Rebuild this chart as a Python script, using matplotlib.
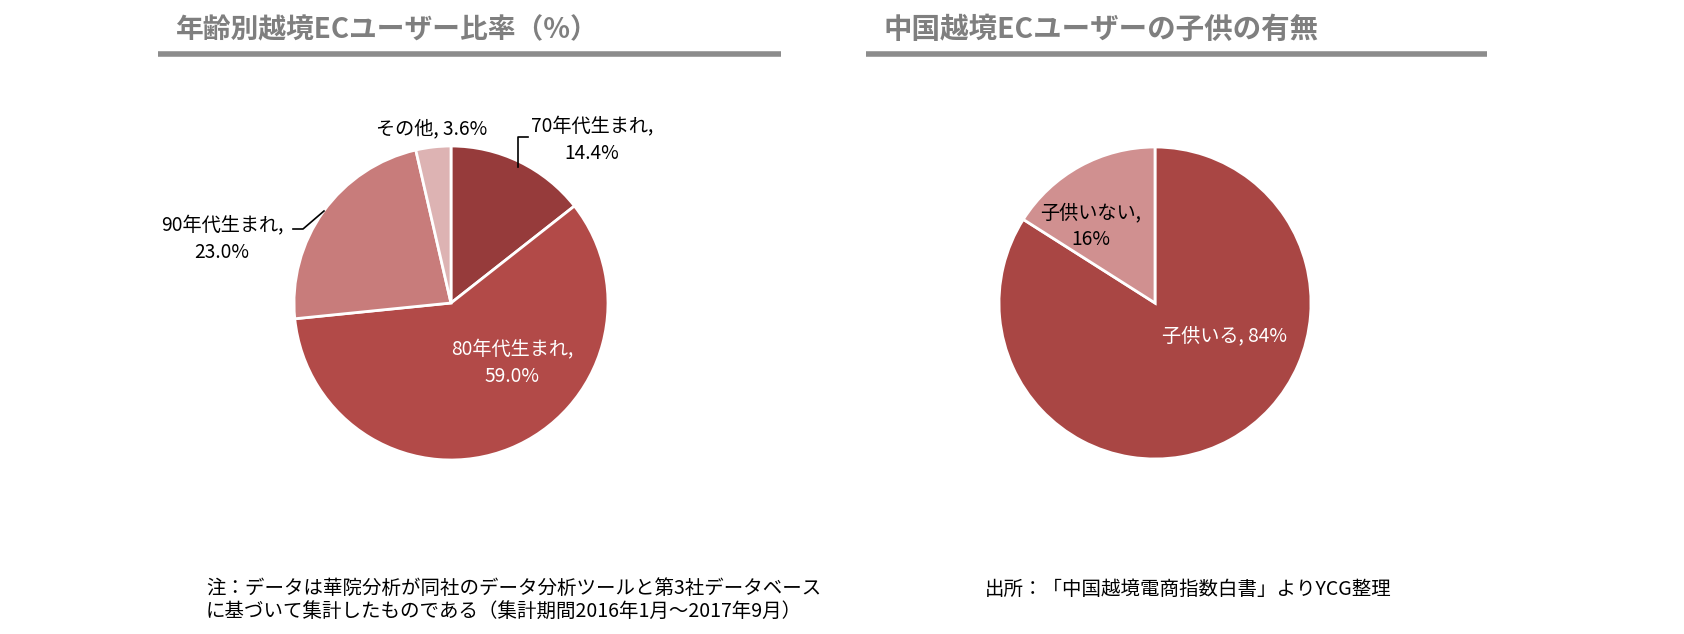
import matplotlib
matplotlib.use('Agg')
import matplotlib.pyplot as plt

plt.rcParams['font.family'] = ['Noto Sans CJK JP', 'DejaVu Sans']

# left pie: users by age group
age_labels = ['70年代生まれ', '80年代生まれ', '90年代生まれ', 'その他']
age_values = [14.4, 59.0, 23.0, 3.6]
age_colors = ['#963b3b', '#b24a48', '#c87c7b', '#ddb3b3']

# right pie: children or not
kid_labels = ['子供いる', '子供いない']
kid_values = [84, 16]
kid_colors = ['#a94644', '#d09090']

titles = ['年齢別越境ECユーザー比率（%）', '中国越境ECユーザーの子供の有無']
note_left = '注：データは華院分析が同社のデータ分析ツールと第3社データベース\nに基づいて集計したものである（集計期間2016年1月～2017年9月）'
note_right = '出所：「中国越境電商指数白書」よりYCG整理'

W, H = 1684, 634
fig = plt.figure(figsize=(W / 100, H / 100), dpi=100)
ax = fig.add_axes([0, 0, 1, 1])


def Y(y):
    # convert top-based pixel y to data y
    return H - y


wedge = dict(edgecolor='white', linewidth=2)

ax.pie(age_values, colors=age_colors, startangle=90, counterclock=False,
       center=(451, Y(303)), radius=157, wedgeprops=wedge, frame=True)
ax.pie(kid_values, colors=kid_colors, startangle=90, counterclock=False,
       center=(1155, Y(303)), radius=156, wedgeprops=wedge, frame=True)
ax.set_xlim(0, W)
ax.set_ylim(0, H)
ax.set_aspect('equal')
ax.axis('off')

# titles and rules
for x0, x1, t, fs in [(158, 781, titles[0], 20), (866, 1487, titles[1], 20.5)]:
    ax.text(x0 + 18, Y(30), t, fontsize=fs, fontweight='bold', color='#7f7f7f',
            ha='left', va='center')
    ax.plot([x0, x1], [Y(54), Y(54)], color='#8c8c8c', lw=4, solid_capstyle='butt')

lab = dict(fontsize=13.8, ha='center', va='center', linespacing=1.4)
ax.text(592, Y(140), f'{age_labels[0]},\n{age_values[0]:.1f}%', color='black', **lab)
ax.text(512, Y(363), f'{age_labels[1]},\n{age_values[1]:.1f}%', color='white', **lab)
ax.text(222, Y(239), f'{age_labels[2]},\n{age_values[2]:.1f}%', color='black', **lab)
ax.text(432, Y(129), f'{age_labels[3]}, {age_values[3]:.1f}%', color='black', **lab)

# leader lines
ax.plot([528, 518, 518], [Y(137), Y(137), Y(167)], color='black', lw=1.2)
ax.plot([293, 303, 324], [Y(229), Y(229), Y(211)], color='black', lw=1.2)

ax.text(1091, Y(226), f'{kid_labels[1]},\n{kid_values[1]}%', color='black', **lab)
ax.text(1224, Y(336), f'{kid_labels[0]}, {kid_values[0]}%', color='white', **lab)

# notes
ax.text(206, Y(600), note_left, fontsize=14, ha='left', va='center', linespacing=1.15)
ax.text(985, Y(589), note_right, fontsize=14, ha='left', va='center')

fig.savefig('out.png', dpi=100)
